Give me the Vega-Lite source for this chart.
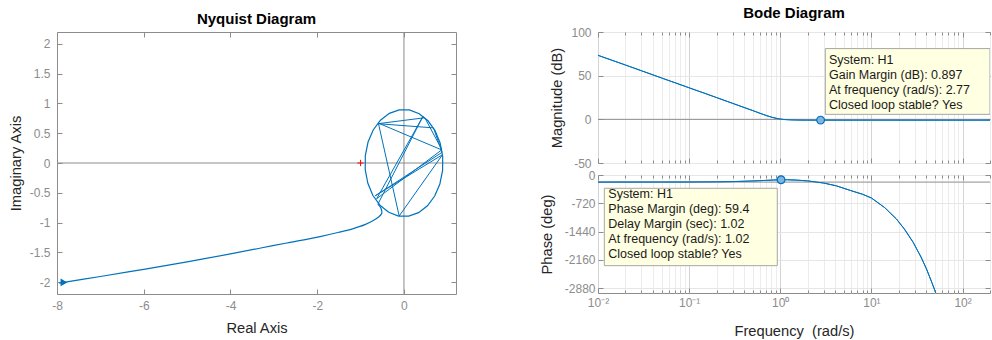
{
  "$schema": "https://vega.github.io/schema/vega-lite/v6.json",
  "background": "white",
  "padding": {"left": 7, "top": 5, "right": 0, "bottom": 0},
  "bounds": "flush",
  "spacing": 142,
  "config": {
    "font": "Liberation Sans",
    "view": {"stroke": "#8c8c8c", "strokeWidth": 1},
    "axis": {
      "labelColor": "#8c8c8c",
      "labelFontSize": 12,
      "labelFont": "Liberation Sans",
      "titleColor": "#262626",
      "titleFontSize": 14.7,
      "titleFontWeight": "normal",
      "titleFont": "Liberation Sans",
      "domain": false,
      "tickColor": "#8c8c8c",
      "labelFlush": false,
      "labelOverlap": false,
      "gridColor": "#e6e6e6"
    },
    "title": {"fontSize": 15, "fontWeight": "bold", "color": "#000000", "font": "Liberation Sans", "offset": 5}
  },
  "datasets": {
    "nyq_curve": [
      {"i": 0, "re": -7.95, "im": -2.018},
      {"i": 1, "re": -7.0, "im": -1.906},
      {"i": 2, "re": -6.0, "im": -1.786},
      {"i": 3, "re": -5.0, "im": -1.66},
      {"i": 4, "re": -4.0, "im": -1.527},
      {"i": 5, "re": -3.3, "im": -1.428},
      {"i": 6, "re": -2.7, "im": -1.343},
      {"i": 7, "re": -1.935, "im": -1.235},
      {"i": 8, "re": -1.5, "im": -1.163},
      {"i": 9, "re": -1.168, "im": -1.101},
      {"i": 10, "re": -0.9, "im": -1.035},
      {"i": 11, "re": -0.707, "im": -0.965},
      {"i": 12, "re": -0.6, "im": -0.915},
      {"i": 13, "re": -0.514, "im": -0.848},
      {"i": 14, "re": -0.53, "im": -0.759},
      {"i": 15, "re": -0.6, "im": -0.69}
    ],
    "nyq_circle": [
      {"i": 0, "re": -0.554, "im": -0.709},
      {"i": 1, "re": -0.719, "im": -0.542},
      {"i": 2, "re": -0.834, "im": -0.337},
      {"i": 3, "re": -0.893, "im": -0.11},
      {"i": 4, "re": -0.891, "im": 0.125},
      {"i": 5, "re": -0.828, "im": 0.352},
      {"i": 6, "re": -0.709, "im": 0.554},
      {"i": 7, "re": -0.542, "im": 0.719},
      {"i": 8, "re": -0.337, "im": 0.834},
      {"i": 9, "re": -0.11, "im": 0.893},
      {"i": 10, "re": 0.125, "im": 0.891},
      {"i": 11, "re": 0.352, "im": 0.828},
      {"i": 12, "re": 0.554, "im": 0.709},
      {"i": 13, "re": 0.719, "im": 0.542},
      {"i": 14, "re": 0.834, "im": 0.337},
      {"i": 15, "re": 0.893, "im": 0.11},
      {"i": 16, "re": 0.891, "im": -0.125},
      {"i": 17, "re": 0.828, "im": -0.352},
      {"i": 18, "re": 0.709, "im": -0.554},
      {"i": 19, "re": 0.542, "im": -0.719},
      {"i": 20, "re": 0.337, "im": -0.834},
      {"i": 21, "re": 0.11, "im": -0.893},
      {"i": 22, "re": -0.125, "im": -0.891},
      {"i": 23, "re": -0.352, "im": -0.828},
      {"i": 24, "re": -0.554, "im": -0.709}
    ],
    "nyq_chords": [
      {"i": 0, "re": -0.6, "im": -0.69},
      {"i": 1, "re": 0.44, "im": 0.785},
      {"i": 2, "re": -0.63, "im": -0.6},
      {"i": 3, "re": 0.87, "im": 0.22},
      {"i": 4, "re": -0.59, "im": 0.67},
      {"i": 5, "re": -0.11, "im": -0.89},
      {"i": 6, "re": 0.89, "im": 0.14},
      {"i": 7, "re": -0.66, "im": -0.55},
      {"i": 8, "re": 0.88, "im": 0.18},
      {"i": 9, "re": 0.68, "im": 0.59},
      {"i": 10, "re": -0.6, "im": 0.66},
      {"i": 11, "re": 0.48, "im": 0.76},
      {"i": 12, "re": 0.87, "im": 0.23}
    ],
    "nyq_start": [{"re": -7.84, "im": -2.006}],
    "mag": [
      {"w": 0.01, "v": 73.3}, {"w": 0.02, "v": 62.2}, {"w": 0.03, "v": 55.6},
      {"w": 0.05, "v": 47.3}, {"w": 0.07, "v": 41.9}, {"w": 0.1, "v": 36.1},
      {"w": 0.15, "v": 29.6}, {"w": 0.2, "v": 24.9}, {"w": 0.3, "v": 18.3},
      {"w": 0.4, "v": 13.6}, {"w": 0.5, "v": 10.0}, {"w": 0.6, "v": 6.9},
      {"w": 0.7, "v": 4.4}, {"w": 0.8, "v": 2.5}, {"w": 0.9, "v": 1.2},
      {"w": 1.0, "v": 0.3}, {"w": 1.1, "v": -0.2}, {"w": 1.3, "v": -0.6},
      {"w": 1.6, "v": -0.8}, {"w": 2, "v": -0.88}, {"w": 3, "v": -0.9},
      {"w": 10, "v": -0.9}, {"w": 200, "v": -0.9}
    ],
    "phase": [
      {"w": 0.01, "v": -180}, {"w": 0.05, "v": -179.5}, {"w": 0.1, "v": -178},
      {"w": 0.2, "v": -174}, {"w": 0.3, "v": -168}, {"w": 0.5, "v": -152},
      {"w": 0.7, "v": -137}, {"w": 0.85, "v": -127}, {"w": 1.02, "v": -120.6},
      {"w": 1.2, "v": -121}, {"w": 1.5, "v": -130}, {"w": 2, "v": -150},
      {"w": 3, "v": -205}, {"w": 4.12, "v": -275}, {"w": 6, "v": -400},
      {"w": 8, "v": -490}, {"w": 10, "v": -585}, {"w": 14, "v": -830},
      {"w": 18.8, "v": -1118}, {"w": 23, "v": -1375}, {"w": 28.7, "v": -1711},
      {"w": 35, "v": -2085}, {"w": 40.2, "v": -2389}, {"w": 46, "v": -2730},
      {"w": 50.5, "v": -2982}, {"w": 53, "v": -3130}
    ],
    "gm": [{"w": 2.77, "v": -0.9}],
    "pm": [{"w": 1.02, "v": -120.6}],
    "tipm": [{"w": 3.12, "w2": 200, "v": 5.7, "v2": 81, "tw": 3.42, "tv": 74.7,
      "label": "System: H1\nGain Margin (dB): 0.897\nAt frequency (rad/s): 2.77\nClosed loop stable? Yes"}],
    "tipp": [{"w": 0.01173, "w2": 0.927, "v": -2305, "v2": -338, "tw": 0.01297, "tv": -343,
      "label": "System: H1\nPhase Margin (deg): 59.4\nDelay Margin (sec): 1.02\nAt frequency (rad/s): 1.02\nClosed loop stable? Yes"}]
  },
  "hconcat": [
    {
      "width": 399,
      "height": 262,
      "title": {"text": "Nyquist Diagram"},
      "resolve": {"axis": {"x": "independent", "y": "independent"}},
      "layer": [
        {
          "data": {"name": "nyq_start"},
          "mark": {"type": "point", "opacity": 0},
          "encoding": {
            "x": {"datum": 0, "type": "quantitative", "scale": {"domain": [-8, 1.2], "nice": false, "zero": false},
              "axis": {"orient": "bottom", "values": [-8, -6, -4, -2, 0], "labelExpr": "'' + datum.value", "title": "Real Axis", "grid": false, "tickSize": -5, "labelPadding": 11.5, "titlePadding": 8.5}},
            "y": {"datum": 0, "type": "quantitative", "scale": {"domain": [-2.2, 2.2], "nice": false, "zero": false},
              "axis": {"orient": "left", "values": [-2, -1.5, -1, -0.5, 0, 0.5, 1, 1.5, 2], "labelExpr": "'' + datum.value", "title": "Imaginary Axis", "grid": false, "tickSize": -5, "labelPadding": 12, "titlePadding": 6}}
          }
        },
        {
          "data": {"name": "nyq_start"},
          "mark": {"type": "point", "opacity": 0},
          "encoding": {
            "x": {"datum": 0, "type": "quantitative", "scale": {"domain": [-8, 1.2], "nice": false, "zero": false},
              "axis": {"orient": "top", "values": [-8, -6, -4, -2, 0], "labels": false, "title": null, "grid": false, "tickSize": -5}},
            "y": {"datum": 0, "type": "quantitative", "scale": {"domain": [-2.2, 2.2], "nice": false, "zero": false},
              "axis": {"orient": "right", "values": [-2, -1.5, -1, -0.5, 0, 0.5, 1, 1.5, 2], "labels": false, "title": null, "grid": false, "tickSize": -5}}
          }
        },
        {
          "data": {"name": "nyq_start"},
          "mark": {"type": "rule", "color": "#8c8c8c", "strokeWidth": 1},
          "encoding": {
            "x": {"datum": 0, "type": "quantitative", "scale": {"domain": [-8, 1.2], "nice": false, "zero": false}, "axis": null}
          }
        },
        {
          "data": {"name": "nyq_start"},
          "mark": {"type": "rule", "color": "#8c8c8c", "strokeWidth": 1},
          "encoding": {
            "y": {"datum": 0, "type": "quantitative", "scale": {"domain": [-2.2, 2.2], "nice": false, "zero": false}, "axis": null}
          }
        },
        {
          "data": {"name": "nyq_circle"},
          "mark": {"type": "line", "color": "#0072BD", "strokeWidth": 1.2, "clip": true},
          "encoding": {
            "x": {"field": "re", "type": "quantitative", "scale": {"domain": [-8, 1.2], "nice": false, "zero": false}, "axis": null},
            "y": {"field": "im", "type": "quantitative", "scale": {"domain": [-2.2, 2.2], "nice": false, "zero": false}, "axis": null},
            "order": {"field": "i", "type": "quantitative"}
          }
        },
        {
          "data": {"name": "nyq_chords"},
          "mark": {"type": "line", "color": "#0072BD", "strokeWidth": 1, "clip": true},
          "encoding": {
            "x": {"field": "re", "type": "quantitative", "scale": {"domain": [-8, 1.2], "nice": false, "zero": false}, "axis": null},
            "y": {"field": "im", "type": "quantitative", "scale": {"domain": [-2.2, 2.2], "nice": false, "zero": false}, "axis": null},
            "order": {"field": "i", "type": "quantitative"}
          }
        },
        {
          "data": {"name": "nyq_curve"},
          "mark": {"type": "line", "color": "#0072BD", "strokeWidth": 1.2, "clip": true, "interpolate": "catmull-rom"},
          "encoding": {
            "x": {"field": "re", "type": "quantitative", "scale": {"domain": [-8, 1.2], "nice": false, "zero": false}, "axis": null},
            "y": {"field": "im", "type": "quantitative", "scale": {"domain": [-2.2, 2.2], "nice": false, "zero": false}, "axis": null},
            "order": {"field": "i", "type": "quantitative"}
          }
        },
        {
          "data": {"name": "nyq_start"},
          "mark": {"type": "point", "shape": "triangle-right", "filled": true, "color": "#0072BD", "size": 60, "opacity": 1},
          "encoding": {
            "x": {"field": "re", "type": "quantitative", "scale": {"domain": [-8, 1.2], "nice": false, "zero": false}, "axis": null},
            "y": {"field": "im", "type": "quantitative", "scale": {"domain": [-2.2, 2.2], "nice": false, "zero": false}, "axis": null}
          }
        },
        {
          "data": {"name": "nyq_start"},
          "mark": {"type": "point", "shape": "M-1,0H1M0,-1V1", "filled": false, "color": "#ff0000", "size": 40, "strokeWidth": 1, "opacity": 1},
          "encoding": {
            "x": {"datum": -1, "type": "quantitative", "scale": {"domain": [-8, 1.2], "nice": false, "zero": false}, "axis": null},
            "y": {"datum": 0, "type": "quantitative", "scale": {"domain": [-2.2, 2.2], "nice": false, "zero": false}, "axis": null}
          }
        }
      ]
    },
    {
      "bounds": "flush",
      "spacing": 12,
      "vconcat": [
        {
          "width": 392,
          "height": 131,
          "title": {"text": "Bode Diagram"},
          "resolve": {"axis": {"x": "independent", "y": "independent"}},
          "layer": [
            {
              "data": {"name": "mag"},
              "mark": {"type": "line", "color": "#0072BD", "strokeWidth": 1, "clip": true},
              "encoding": {
                "x": {"field": "w", "type": "quantitative", "scale": {"type": "log", "domain": [0.01, 200], "nice": false},
                  "axis": {"orient": "bottom", "values": [0.01,0.02,0.03,0.04,0.05,0.06,0.07,0.08,0.09,0.1,0.2,0.3,0.4,0.5,0.6,0.7,0.8,0.9,1,2,3,4,5,6,7,8,9,10,20,30,40,50,60,70,80,90,100,200],
                    "labels": false, "title": null, "grid": true,
                    "gridColor": {"condition": {"test": "indexof([0.01,0.1,1,10,100], datum.value) >= 0", "value": "#d4d4d4"}, "value": "#ececec"},
                    "tickSize": {"condition": {"test": "indexof([0.01,0.1,1,10,100], datum.value) >= 0", "value": -5}, "value": -3}}},
                "y": {"field": "v", "type": "quantitative", "scale": {"domain": [-50, 100], "nice": false, "zero": false},
                  "axis": {"orient": "left", "values": [-50, 0, 50, 100], "labelExpr": "'' + datum.value", "title": "Magnitude (dB)", "grid": true, "gridColor": "#e6e6e6", "tickSize": -5, "labelPadding": 12, "titlePadding": 6}}
              }
            },
            {
              "data": {"name": "gm"},
              "mark": {"type": "rule", "color": "#8c8c8c", "strokeWidth": 1},
              "encoding": {
                "x": {"datum": 0.01, "type": "quantitative", "scale": {"type": "log", "domain": [0.01, 200], "nice": false},
                  "axis": {"orient": "top", "values": [0.01,0.02,0.03,0.04,0.05,0.06,0.07,0.08,0.09,0.1,0.2,0.3,0.4,0.5,0.6,0.7,0.8,0.9,1,2,3,4,5,6,7,8,9,10,20,30,40,50,60,70,80,90,100,200],
                    "labels": false, "title": null, "grid": false,
                    "tickSize": {"condition": {"test": "indexof([0.01,0.1,1,10,100], datum.value) >= 0", "value": -5}, "value": -3}}},
                "y": {"datum": 0, "type": "quantitative", "scale": {"domain": [-50, 100], "nice": false, "zero": false},
                  "axis": {"orient": "right", "values": [-50, 0, 50, 100], "labels": false, "title": null, "grid": false, "tickSize": -5}},
                "x2": {"datum": 200}
              }
            },
            {
              "data": {"name": "mag"},
              "mark": {"type": "line", "color": "#0072BD", "strokeWidth": 1, "clip": true},
              "encoding": {
                "x": {"field": "w", "type": "quantitative", "scale": {"type": "log", "domain": [0.01, 200], "nice": false}, "axis": null},
                "y": {"field": "v", "type": "quantitative", "scale": {"domain": [-50, 100], "nice": false, "zero": false}, "axis": null}
              }
            },
            {
              "data": {"name": "tipm"},
              "mark": {"type": "rect", "fill": "#ffffe1", "stroke": "#a6a6a6", "strokeWidth": 1, "clip": true},
              "encoding": {
                "x": {"field": "w", "type": "quantitative", "scale": {"type": "log", "domain": [0.01, 200], "nice": false}, "axis": null},
                "x2": {"field": "w2"},
                "y": {"field": "v", "type": "quantitative", "scale": {"domain": [-50, 100], "nice": false, "zero": false}, "axis": null},
                "y2": {"field": "v2"}
              }
            },
            {
              "data": {"name": "tipm"},
              "mark": {"type": "text", "align": "left", "baseline": "top", "fontSize": 12.5, "lineHeight": 15, "lineBreak": "\n", "color": "#1a1a1a", "font": "Liberation Sans"},
              "encoding": {
                "x": {"field": "tw", "type": "quantitative", "scale": {"type": "log", "domain": [0.01, 200], "nice": false}, "axis": null},
                "y": {"field": "tv", "type": "quantitative", "scale": {"domain": [-50, 100], "nice": false, "zero": false}, "axis": null},
                "text": {"field": "label", "type": "nominal"}
              }
            },
            {
              "data": {"name": "gm"},
              "mark": {"type": "point", "shape": "circle", "filled": true, "fill": "#7fb5e0", "stroke": "#0072BD", "strokeWidth": 1.2, "size": 60, "opacity": 1},
              "encoding": {
                "x": {"field": "w", "type": "quantitative", "scale": {"type": "log", "domain": [0.01, 200], "nice": false}, "axis": null},
                "y": {"field": "v", "type": "quantitative", "scale": {"domain": [-50, 100], "nice": false, "zero": false}, "axis": null}
              }
            }
          ]
        },
        {
          "width": 392,
          "height": 118,
          "resolve": {"axis": {"x": "independent", "y": "independent"}},
          "layer": [
            {
              "data": {"name": "phase"},
              "mark": {"type": "line", "color": "#0072BD", "strokeWidth": 1, "clip": true},
              "encoding": {
                "x": {"field": "w", "type": "quantitative", "scale": {"type": "log", "domain": [0.01, 200], "nice": false},
                  "axis": {"orient": "bottom", "values": [0.01,0.02,0.03,0.04,0.05,0.06,0.07,0.08,0.09,0.1,0.2,0.3,0.4,0.5,0.6,0.7,0.8,0.9,1,2,3,4,5,6,7,8,9,10,20,30,40,50,60,70,80,90,100,200],
                    "labelExpr": "datum.value == 0.01 ? '10⁻²' : datum.value == 0.1 ? '10⁻¹' : datum.value == 1 ? '10⁰' : datum.value == 10 ? '10¹' : datum.value == 100 ? '10²' : ''",
                    "title": "Frequency \u00a0(rad/s)", "grid": true, "labelPadding": 9, "titlePadding": 13,
                    "gridColor": {"condition": {"test": "indexof([0.01,0.1,1,10,100], datum.value) >= 0", "value": "#d4d4d4"}, "value": "#ececec"},
                    "tickSize": {"condition": {"test": "indexof([0.01,0.1,1,10,100], datum.value) >= 0", "value": -5}, "value": -3}}},
                "y": {"field": "v", "type": "quantitative", "scale": {"domain": [-3000, 0], "nice": false, "zero": false},
                  "axis": {"orient": "left", "values": [0, -720, -1440, -2160, -2880], "labelExpr": "'' + datum.value", "title": "Phase (deg)", "grid": true, "gridColor": "#e6e6e6", "tickSize": -5, "labelPadding": 8, "titlePadding": 10}}
              }
            },
            {
              "data": {"name": "pm"},
              "mark": {"type": "rule", "color": "#8c8c8c", "strokeWidth": 1},
              "encoding": {
                "x": {"datum": 0.01, "type": "quantitative", "scale": {"type": "log", "domain": [0.01, 200], "nice": false},
                  "axis": {"orient": "top", "values": [0.01,0.02,0.03,0.04,0.05,0.06,0.07,0.08,0.09,0.1,0.2,0.3,0.4,0.5,0.6,0.7,0.8,0.9,1,2,3,4,5,6,7,8,9,10,20,30,40,50,60,70,80,90,100,200],
                    "labels": false, "title": null, "grid": false,
                    "tickSize": {"condition": {"test": "indexof([0.01,0.1,1,10,100], datum.value) >= 0", "value": -5}, "value": -3}}},
                "x2": {"datum": 200},
                "y": {"datum": -180, "type": "quantitative", "scale": {"domain": [-3000, 0], "nice": false, "zero": false},
                  "axis": {"orient": "right", "values": [0, -720, -1440, -2160, -2880], "labels": false, "title": null, "grid": false, "tickSize": -5}}
              }
            },
            {
              "data": {"name": "phase"},
              "mark": {"type": "line", "color": "#0072BD", "strokeWidth": 1, "clip": true},
              "encoding": {
                "x": {"field": "w", "type": "quantitative", "scale": {"type": "log", "domain": [0.01, 200], "nice": false}, "axis": null},
                "y": {"field": "v", "type": "quantitative", "scale": {"domain": [-3000, 0], "nice": false, "zero": false}, "axis": null}
              }
            },
            {
              "data": {"name": "tipp"},
              "mark": {"type": "rect", "fill": "#ffffe1", "stroke": "#a6a6a6", "strokeWidth": 1, "clip": true},
              "encoding": {
                "x": {"field": "w", "type": "quantitative", "scale": {"type": "log", "domain": [0.01, 200], "nice": false}, "axis": null},
                "x2": {"field": "w2"},
                "y": {"field": "v", "type": "quantitative", "scale": {"domain": [-3000, 0], "nice": false, "zero": false}, "axis": null},
                "y2": {"field": "v2"}
              }
            },
            {
              "data": {"name": "tipp"},
              "mark": {"type": "text", "align": "left", "baseline": "top", "fontSize": 12.5, "lineHeight": 15, "lineBreak": "\n", "color": "#1a1a1a", "font": "Liberation Sans"},
              "encoding": {
                "x": {"field": "tw", "type": "quantitative", "scale": {"type": "log", "domain": [0.01, 200], "nice": false}, "axis": null},
                "y": {"field": "tv", "type": "quantitative", "scale": {"domain": [-3000, 0], "nice": false, "zero": false}, "axis": null},
                "text": {"field": "label", "type": "nominal"}
              }
            },
            {
              "data": {"name": "pm"},
              "mark": {"type": "point", "shape": "circle", "filled": true, "fill": "#7fb5e0", "stroke": "#0072BD", "strokeWidth": 1.2, "size": 60, "opacity": 1},
              "encoding": {
                "x": {"field": "w", "type": "quantitative", "scale": {"type": "log", "domain": [0.01, 200], "nice": false}, "axis": null},
                "y": {"field": "v", "type": "quantitative", "scale": {"domain": [-3000, 0], "nice": false, "zero": false}, "axis": null}
              }
            }
          ]
        }
      ]
    }
  ]
}
